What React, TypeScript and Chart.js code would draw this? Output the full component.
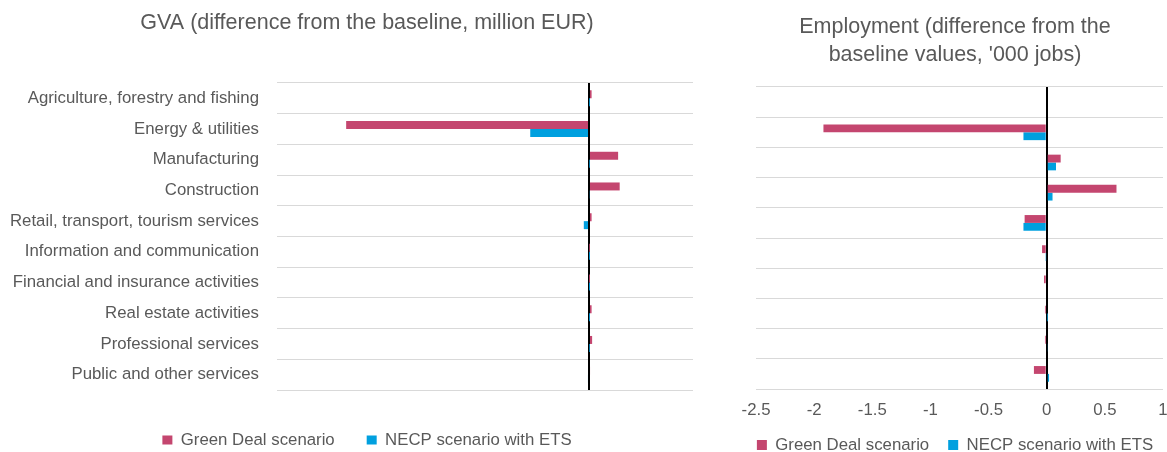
import React, { useEffect, useRef } from "react";
import { Chart, registerables } from "chart.js";

Chart.register(...registerables);

// Sectors shown on both panels, top to bottom
const categories = [
  "Agriculture, forestry and fishing",
  "Energy & utilities",
  "Manufacturing",
  "Construction",
  "Retail, transport, tourism services",
  "Information and communication",
  "Financial and insurance activities",
  "Real estate activities",
  "Professional services",
  "Public and other services",
];

const seriesNames = ["Green Deal scenario", "NECP scenario with ETS"];

// GVA, difference from the baseline (million EUR)
const gvaGreenDeal = [5, -467, 56, 59, 5, 0.5, 0.3, 5, 6, 2];
const gvaNecp = [0.3, -113, 0.5, 1.5, -10, 0.2, 0.1, 0.2, 0.5, -2];

// Employment, difference from the baseline ('000 jobs)
const empGreenDeal = [0, -1.92, 0.12, 0.6, -0.19, -0.04, -0.023, -0.015, -0.015, -0.11];
const empNecp = [0, -0.2, 0.08, 0.05, -0.2, -0.005, 0, 0.002, 0.01, 0.02];

const gvaTicks = { min: -600, max: 200, step: 200 };
const empTicks = { min: -2.5, max: 1, step: 0.5 };

const gvaTitle = "GVA (difference from the baseline, million EUR)";
const empTitle = ["Employment (difference from the", "baseline values, '000 jobs)"];

const PINK = "rgb(196, 70, 111)";
const BLUE = "rgb(0, 160, 223)";
const TEXT = "#595959";
const GRID = "#d9d9d9";
const FAMILY = "'Liberation Sans', Arial, sans-serif";
const FONT_SIZE = 16.8;

type PanelProps = {
  green: number[];
  necp: number[];
  ticks: { min: number; max: number; step: number };
  title: string | string[];
  titleLineHeight: number;
  titlePadding: { top: number; bottom: number };
  showCategories: boolean;
  yAxisWidth: number;
  rightGutter: number;
  xAxisHeight: number;
  xTickPadding: number;
  legendPadding: number;
  legendBoxHeight: number;
  layoutPadding: { left: number; right: number; top: number; bottom: number };
  width: number;
  height: number;
  left: number;
};

function Panel(p: PanelProps) {
  const ref = useRef<HTMLCanvasElement | null>(null);

  useEffect(() => {
    if (!ref.current) return;
    const scales: any = {
      y: {
        type: "category",
        grid: { color: GRID, lineWidth: 1, drawTicks: false },
        border: { display: false },
        ticks: {
          display: p.showCategories,
          color: TEXT,
          padding: 18,
          font: { family: FAMILY, size: FONT_SIZE },
        },
        afterFit: (s: any) => {
          s.width = p.yAxisWidth;
        },
      },
      x: {
        type: "linear",
        min: p.ticks.min,
        max: p.ticks.max,
        z: 1,
        grid: {
          drawTicks: false,
          color: (c: any) => (c.tick && c.tick.value === 0 ? "#000000" : "rgba(0,0,0,0)"),
          lineWidth: (c: any) => (c.tick && c.tick.value === 0 ? 2 : 0),
        },
        border: { display: false },
        ticks: {
          stepSize: p.ticks.step,
          color: TEXT,
          padding: p.xTickPadding,
          font: { family: FAMILY, size: FONT_SIZE },
          callback: (v: any) => String(Math.round(Number(v) * 100) / 100),
        },
        afterFit: (s: any) => {
          s.height = p.xAxisHeight;
        },
      },
    };
    if (p.rightGutter > 0) {
      // empty gutter on the right so the plot stops short of the title/legend box edge
      scales.gutter = {
        type: "linear",
        axis: "y",
        position: "right",
        display: true,
        grid: { display: false },
        border: { display: false },
        ticks: { display: false },
        afterFit: (s: any) => {
          s.width = p.rightGutter;
        },
      };
    }

    const chart = new Chart(ref.current, {
      type: "bar",
      data: {
        labels: categories,
        datasets: [
          {
            label: seriesNames[0],
            data: p.green,
            backgroundColor: PINK,
            borderWidth: 0,
            categoryPercentage: 0.52,
            barPercentage: 1,
            xAxisID: "x",
            yAxisID: "y",
          },
          {
            label: seriesNames[1],
            data: p.necp,
            backgroundColor: BLUE,
            borderWidth: 0,
            categoryPercentage: 0.52,
            barPercentage: 1,
            xAxisID: "x",
            yAxisID: "y",
          },
        ],
      },
      options: {
        indexAxis: "y",
        responsive: false,
        animation: false,
        devicePixelRatio: 1,
        layout: { padding: p.layoutPadding },
        plugins: {
          tooltip: { enabled: false },
          title: {
            display: true,
            text: p.title,
            color: TEXT,
            font: { family: FAMILY, size: 21.5, weight: "normal", lineHeight: p.titleLineHeight },
            padding: p.titlePadding,
          },
          legend: {
            position: "bottom",
            labels: {
              boxWidth: 10,
              boxHeight: p.legendBoxHeight,
              padding: p.legendPadding,
              color: TEXT,
              font: { family: FAMILY, size: FONT_SIZE },
            },
          },
        },
        scales,
      } as any,
    });
    return () => chart.destroy();
  }, []);

  return (
    <canvas
      ref={ref}
      width={p.width}
      height={p.height}
      style={{ position: "absolute", left: p.left, top: 0, width: p.width, height: p.height }}
    />
  );
}

export default function App() {
  return (
    <div
      style={{
        position: "fixed",
        left: 0,
        top: 0,
        width: 1167,
        height: 452,
        overflow: "hidden",
        background: "#ffffff",
      }}
    >
      <Panel
        green={gvaGreenDeal}
        necp={gvaNecp}
        ticks={gvaTicks}
        title={gvaTitle}
        titleLineHeight={1.2}
        titlePadding={{ top: 10.6, bottom: 46.6 }}
        showCategories={true}
        yAxisWidth={277}
        rightGutter={41}
        xAxisHeight={9.6}
        xTickPadding={10}
        legendPadding={32}
        legendBoxHeight={9}
        layoutPadding={{ left: 0, right: 0, top: 0, bottom: 1.6 }}
        width={734}
        height={460}
        left={0}
      />
      <Panel
        green={empGreenDeal}
        necp={empNecp}
        ticks={empTicks}
        title={empTitle}
        titleLineHeight={28 / 21.5}
        titlePadding={{ top: 13, bottom: 18 }}
        showCategories={false}
        yAxisWidth={31}
        rightGutter={22}
        xAxisHeight={28.6}
        xTickPadding={11}
        legendPadding={19}
        legendBoxHeight={10}
        layoutPadding={{ left: 0, right: 0, top: 0, bottom: 0.6 }}
        width={460}
        height={464}
        left={725}
      />
    </div>
  );
}
